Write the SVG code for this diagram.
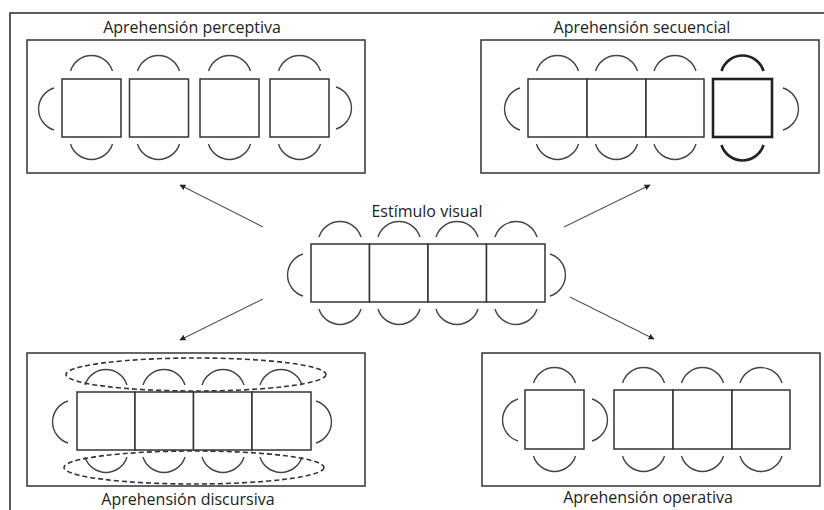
<svg xmlns="http://www.w3.org/2000/svg" width="824" height="510" viewBox="0 0 824 510">
<defs>
<marker id="ah" viewBox="0 0 10 10" refX="9" refY="5" markerWidth="6" markerHeight="6" markerUnits="userSpaceOnUse" orient="auto">
<path d="M0,0 L10,5 L0,10 z" fill="#222"/>
</marker>
<style>
.frame{fill:none;stroke:#333;stroke-width:1.6}
.box{fill:#fff;stroke:#333;stroke-width:1.5}
.sq{fill:#fff;stroke:#333;stroke-width:1.5}
.sqb{fill:#fff;stroke:#222;stroke-width:2.6}
.arc{fill:none;stroke:#444;stroke-width:1.4}
.arcb{fill:none;stroke:#222;stroke-width:2.6}
.dash{fill:none;stroke:#333;stroke-width:1.6;stroke-dasharray:5 3}
.conn{fill:none;stroke:#555;stroke-width:1.1;marker-end:url(#ah)}
.t{font-family:"Open Sans","Noto Sans","Liberation Sans",sans-serif;font-size:16px;fill:#222;text-anchor:middle}
</style>
</defs>
<rect x="0" y="0" width="824" height="510" fill="#fff"/>
<rect class="frame" x="10" y="13" width="830" height="520"/>

<g id="perceptiva">
<rect class="box" x="27" y="40" width="338" height="133"/>
<text class="t" x="192" y="33">Aprehensión perceptiva</text>
<rect class="sq" x="62" y="79" width="59" height="58"/>
<rect class="sq" x="129.5" y="79" width="59" height="58"/>
<rect class="sq" x="200" y="79" width="59" height="58"/>
<rect class="sq" x="270" y="79" width="59" height="58"/>
<path class="arc" d="M70.5,71 A22,22 0 0 1 112.5,71 M137.5,71 A22,22 0 0 1 179.5,71 M208.5,71 A22,22 0 0 1 250.5,71 M278.5,71 A22,22 0 0 1 320.5,71"/>
<path class="arc" d="M70.5,144 A22,22 0 0 0 112.5,144 M137.5,144 A22,22 0 0 0 179.5,144 M208.5,144 A22,22 0 0 0 250.5,144 M278.5,144 A22,22 0 0 0 320.5,144"/>
<path class="arc" d="M54,130 A22,22 0 0 1 54,88 M336,87 A22,22 0 0 1 336,129"/>
</g>

<g id="secuencial">
<rect class="box" x="481" y="40" width="338" height="133"/>
<text class="t" x="642" y="33">Aprehensión secuencial</text>
<rect class="sq" x="528" y="79" width="59" height="58"/>
<rect class="sq" x="587" y="79" width="59" height="58"/>
<rect class="sq" x="646" y="79" width="58" height="58"/>
<rect class="sqb" x="713" y="79" width="59" height="58"/>
<path class="arc" d="M536.5,71 A22,22 0 0 1 578.5,71 M595.5,71 A22,22 0 0 1 637.5,71 M654,71 A22,22 0 0 1 696,71"/>
<path class="arc" d="M536.5,144 A22,22 0 0 0 578.5,144 M595.5,144 A22,22 0 0 0 637.5,144 M654,144 A22,22 0 0 0 696,144"/>
<path class="arcb" d="M721.5,71 A22,22 0 0 1 763.5,71 M721.5,145 A22,22 0 0 0 763.5,145"/>
<path class="arc" d="M520,130 A22,22 0 0 1 520,88 M783,88 A22,22 0 0 1 783,130"/>
</g>

<g id="estimulo">
<text class="t" x="427" y="217">Estímulo visual</text>
<rect class="sq" x="311" y="244" width="58.5" height="58"/>
<rect class="sq" x="369.5" y="244" width="58.5" height="58"/>
<rect class="sq" x="428" y="244" width="58.5" height="58"/>
<rect class="sq" x="486.5" y="244" width="58.5" height="58"/>
<path class="arc" d="M319,237 A22,22 0 0 1 361,237 M378,237 A22,22 0 0 1 420,237 M436,237 A22,22 0 0 1 478,237 M495,237 A22,22 0 0 1 537,237"/>
<path class="arc" d="M319,309 A22,22 0 0 0 361,309 M378,309 A22,22 0 0 0 420,309 M436,309 A22,22 0 0 0 478,309 M495,309 A22,22 0 0 0 537,309"/>
<path class="arc" d="M303,296 A22,22 0 0 1 303,254 M550,254 A22,22 0 0 1 550,296"/>
</g>

<g id="discursiva">
<rect class="box" x="27" y="353" width="338" height="133"/>
<text class="t" x="188" y="505">Aprehensión discursiva</text>
<path class="arc" d="M85,385 A22,22 0 0 1 127,385 M143,385 A22,22 0 0 1 185,385 M202,385 A22,22 0 0 1 244,385 M260,385 A22,22 0 0 1 302,385"/>
<path class="arc" d="M85,457 A22,22 0 0 0 127,457 M143,457 A22,22 0 0 0 185,457 M202,457 A22,22 0 0 0 244,457 M260,457 A22,22 0 0 0 302,457"/>
<path class="arc" d="M68,443 A22,22 0 0 1 68,401 M316,401 A22,22 0 0 1 316,443"/>
<rect class="sq" x="77" y="392" width="58" height="58"/>
<rect class="sq" x="135" y="392" width="58.5" height="58"/>
<rect class="sq" x="193.5" y="392" width="58.5" height="58"/>
<rect class="sq" x="252" y="392" width="59" height="58"/>
<ellipse class="dash" cx="196" cy="374.5" rx="130" ry="16.5"/>
<ellipse class="dash" cx="194" cy="467.5" rx="130" ry="16.5"/>
</g>

<g id="operativa">
<rect class="box" x="482" y="353" width="338" height="133"/>
<text class="t" x="648" y="503">Aprehensión operativa</text>
<rect class="sq" x="525" y="390" width="59" height="59"/>
<rect class="sq" x="614" y="390" width="59" height="59"/>
<rect class="sq" x="673" y="390" width="59" height="59"/>
<rect class="sq" x="732" y="390" width="58" height="59"/>
<path class="arc" d="M533.5,383 A22,22 0 0 1 575.5,383 M622.5,383 A22,22 0 0 1 664.5,383 M681.5,383 A22,22 0 0 1 723.5,383 M740,383 A22,22 0 0 1 782,383"/>
<path class="arc" d="M533.5,456 A22,22 0 0 0 575.5,456 M622.5,456 A22,22 0 0 0 664.5,456 M681.5,456 A22,22 0 0 0 723.5,456 M740,456 A22,22 0 0 0 782,456"/>
<path class="arc" d="M518,441 A22,22 0 0 1 518,399 M592,399 A22,22 0 0 1 592,441"/>
</g>

<g id="connectors">
<line class="conn" x1="263" y1="227" x2="180" y2="185"/>
<line class="conn" x1="564" y1="227" x2="650" y2="185"/>
<line class="conn" x1="263" y1="299" x2="180" y2="340"/>
<line class="conn" x1="570" y1="297" x2="654" y2="339"/>
</g>
</svg>
